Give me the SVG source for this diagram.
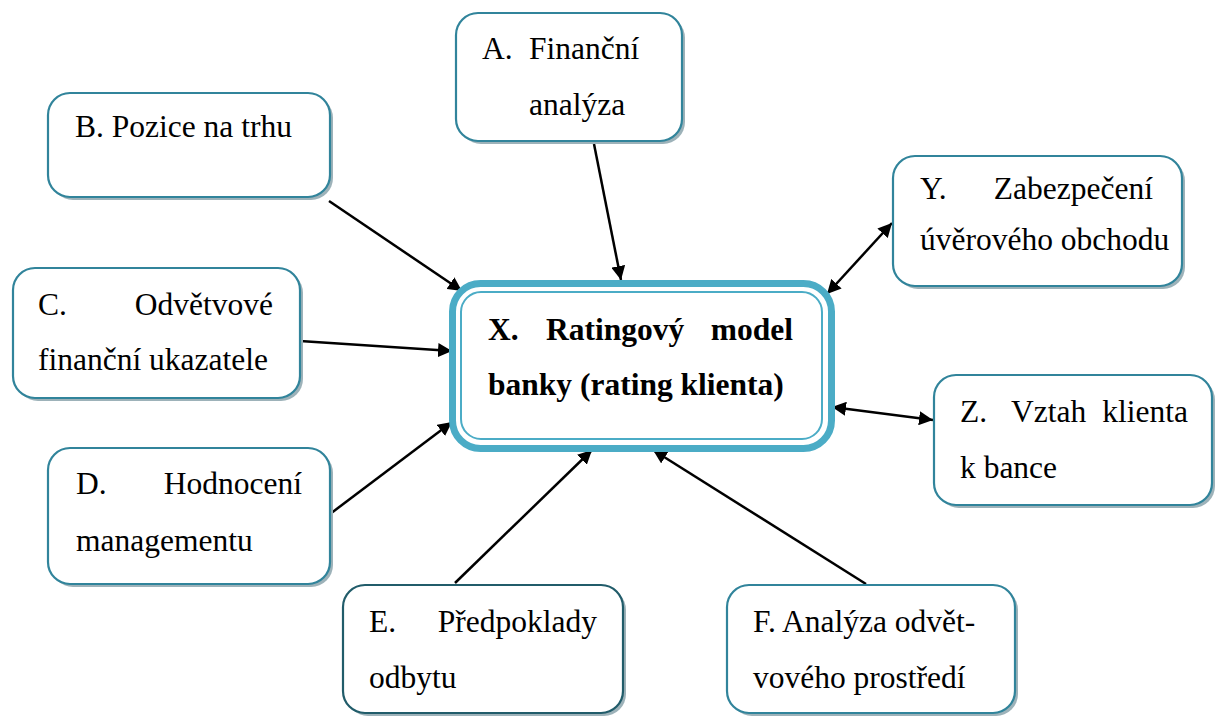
<svg xmlns="http://www.w3.org/2000/svg" width="1217" height="716" viewBox="0 0 1217 716">
<style>
  .shadow { fill: #9db2b9; }
  .box { fill: #ffffff; stroke: #31849B; stroke-width: 2.2; }
  .boxdark { fill: #ffffff; stroke: #215C6A; stroke-width: 2.2; }
  text { font-family: 'Liberation Serif', 'DejaVu Serif', serif; font-size: 31.5px; fill: #000; }
  .tb { font-weight: bold; }
  .e { text-anchor: end; }
  .conn line { stroke: #000; stroke-width: 2.5; }
</style>
<defs>
  <marker id="ah" markerUnits="userSpaceOnUse" markerWidth="14" markerHeight="14" viewBox="0 0 14 14" refX="14" refY="7" orient="auto-start-reverse">
    <path d="M0,0 L14,7 L0,14 z" fill="#000"/>
  </marker>
</defs>
<rect width="1217" height="716" fill="#ffffff"/>

<g id="connectors" class="conn">
  <line x1="594" y1="144" x2="621" y2="280" marker-end="url(#ah)"/>
  <line x1="329" y1="201" x2="462" y2="291" marker-end="url(#ah)"/>
  <line x1="300" y1="341" x2="452" y2="351" marker-end="url(#ah)"/>
  <line x1="330" y1="514" x2="452" y2="422" marker-end="url(#ah)"/>
  <line x1="455" y1="583" x2="592" y2="450" marker-end="url(#ah)"/>
  <line x1="866" y1="584" x2="653" y2="450" marker-end="url(#ah)"/>
  <line x1="827" y1="294" x2="892" y2="223" marker-start="url(#ah)" marker-end="url(#ah)"/>
  <line x1="832" y1="407" x2="933" y2="420" marker-start="url(#ah)" marker-end="url(#ah)"/>
</g>

<g id="nodeA">
  <rect class="shadow" x="459" y="16" width="226" height="128" rx="22"/>
  <rect class="box" x="456" y="13" width="226" height="128" rx="22"/>
  <text x="482" y="59" font-family="Liberation Serif, serif">A.</text>
  <text x="529" y="59" font-family="Liberation Serif, serif">Finanční</text>
  <text x="529" y="115" font-family="Liberation Serif, serif">analýza</text>
</g>

<g id="nodeB">
  <rect class="shadow" x="51" y="96" width="282" height="104" rx="22"/>
  <rect class="box" x="48" y="93" width="282" height="104" rx="22"/>
  <text x="75" y="137">B. Pozice na trhu</text>
</g>

<g id="nodeC">
  <rect class="shadow" x="16" y="271" width="287" height="130" rx="22"/>
  <rect class="box" x="13" y="268" width="287" height="130" rx="22"/>
  <text x="38" y="315">C.</text>
  <text class="e" x="273" y="315">Odvětvové</text>
  <text x="38" y="370">finanční ukazatele</text>
</g>

<g id="nodeD">
  <rect class="shadow" x="51" y="451" width="282" height="136" rx="22"/>
  <rect class="box" x="48" y="448" width="282" height="136" rx="22"/>
  <text x="76" y="494">D.</text>
  <text class="e" x="302" y="494">Hodnocení</text>
  <text x="76" y="551">managementu</text>
</g>

<g id="nodeE">
  <rect class="shadow" x="346" y="588" width="280" height="128" rx="22"/>
  <rect class="boxdark" x="343" y="585" width="280" height="128" rx="22"/>
  <text x="369" y="632">E.</text>
  <text class="e" x="597" y="632">Předpoklady</text>
  <text x="369" y="688">odbytu</text>
</g>

<g id="nodeF">
  <rect class="shadow" x="730" y="588" width="288" height="128" rx="22"/>
  <rect class="box" x="727" y="585" width="288" height="128" rx="22"/>
  <text x="753" y="632">F. Analýza odvět-</text>
  <text x="753" y="688">vového prostředí</text>
</g>

<g id="nodeY">
  <rect class="shadow" x="896" y="159" width="289" height="130" rx="22"/>
  <rect class="box" x="893" y="156" width="289" height="130" rx="22"/>
  <text x="920" y="199">Y.</text>
  <text class="e" x="1153" y="199">Zabezpečení</text>
  <text x="920" y="250">úvěrového obchodu</text>
</g>

<g id="nodeZ">
  <rect class="shadow" x="937" y="378" width="278" height="130" rx="22"/>
  <rect class="box" x="934" y="375" width="278" height="130" rx="22"/>
  <text x="960" y="422">Z.</text>
  <text x="1011" y="422">Vztah</text>
  <text class="e" x="1188" y="422">klienta</text>
  <text x="960" y="478">k bance</text>
</g>

<g id="nodeX">
  <rect x="452.5" y="283.5" width="379" height="165" rx="28" fill="#ffffff" stroke="#4BACC6" stroke-width="7"/>
  <rect x="461" y="292" width="361" height="147" rx="20" fill="none" stroke="#4BACC6" stroke-width="2"/>
  <text class="tb" x="488" y="340">X.</text>
  <text class="tb" x="546" y="340">Ratingový</text>
  <text class="tb e" x="793" y="340">model</text>
  <text class="tb" x="488" y="395">banky (rating klienta)</text>
</g>
</svg>
